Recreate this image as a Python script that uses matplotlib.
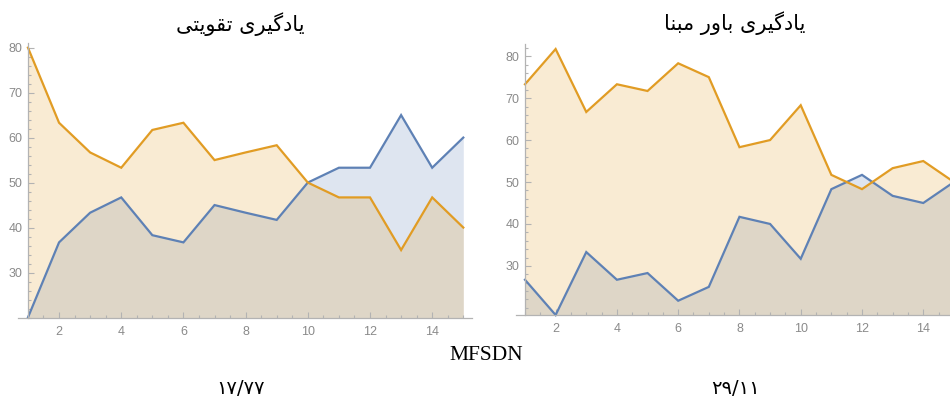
import matplotlib
matplotlib.use('Agg')
import matplotlib.pyplot as plt
from matplotlib.ticker import FixedLocator, MultipleLocator

# ---------------- data ----------------
x = list(range(1, 16))
rl_blue = [20, 36.7, 43.3, 46.7, 38.3, 36.7, 45, 43.3, 41.7, 50, 53.3, 53.3, 65, 53.3, 60]
rl_orange = [80, 63.3, 56.7, 53.3, 61.7, 63.3, 55, 56.7, 58.3, 50, 46.7, 46.7, 35, 46.7, 40]
bb_blue = [26.7, 18.3, 33.3, 26.7, 28.3, 21.7, 25, 41.7, 40, 31.7, 48.3, 51.7, 46.7, 45, 50]
bb_orange = [73.3, 81.7, 66.7, 73.3, 71.7, 78.3, 75, 58.3, 60, 68.3, 51.7, 48.3, 53.3, 55, 50]

title_left = 'یادگیری تقویتی'
title_right = 'یادگیری باور مبنا'
xlabel = 'MFSDN'
score_left = '۱۷/۷۷'
score_right = '۲۹/۱۱'

x_ticks = [2, 4, 6, 8, 10, 12, 14]
y_ticks = [30, 40, 50, 60, 70, 80]

BLUE = '#5E81B5'
ORANGE = '#E19C24'
AXCOL = '#b3b3b3'
LABCOL = '#8a8a8a'

# ---------------- simple Arabic/Persian shaping ----------------
FORMS = {
    'ا': ('\uFE8D', '\uFE8E', None, None),
    'ب': ('\uFE8F', '\uFE90', '\uFE91', '\uFE92'),
    'ت': ('\uFE95', '\uFE96', '\uFE97', '\uFE98'),
    'د': ('\uFEA9', '\uFEAA', None, None),
    'ر': ('\uFEAD', '\uFEAE', None, None),
    'ق': ('\uFED5', '\uFED6', '\uFED7', '\uFED8'),
    'م': ('\uFEE1', '\uFEE2', '\uFEE3', '\uFEE4'),
    'ن': ('\uFEE5', '\uFEE6', '\uFEE7', '\uFEE8'),
    'و': ('\uFEED', '\uFEEE', None, None),
    'گ': ('\uFB92', '\uFB93', '\uFB94', '\uFB95'),
    'ی': ('\uFBFC', '\uFBFD', '\uFBFE', '\uFBFF'),
}


def shape(s):
    out = []
    n = len(s)
    for i, c in enumerate(s):
        if c not in FORMS:
            out.append(c)
            continue
        f = FORMS[c]
        prev = s[i - 1] if i > 0 else None
        nxt = s[i + 1] if i < n - 1 else None
        jp = prev in FORMS and FORMS[prev][2] is not None
        jn = nxt in FORMS and f[2] is not None
        if jp and jn:
            g = f[3]
        elif jp:
            g = f[1]
        elif jn:
            g = f[2]
        else:
            g = f[0]
        out.append(g)
    return ''.join(reversed(out))


fig = plt.figure(figsize=(9.5, 4.03), dpi=100)


def panel(rect, blue, orange, xlim, ytop):
    base = min(min(blue), min(orange))
    ax = fig.add_axes(rect)
    ax.fill_between(x, base, blue, color=BLUE, alpha=0.2, lw=0)
    ax.fill_between(x, base, orange, color=ORANGE, alpha=0.2, lw=0)
    ax.plot(x, blue, color=BLUE, lw=1.6, solid_joinstyle='miter', clip_on=False)
    ax.plot(x, orange, color=ORANGE, lw=1.6, solid_joinstyle='miter', clip_on=False)
    ax.set_xlim(*xlim)
    ax.set_ylim(base, ytop)
    for s in ['top', 'right']:
        ax.spines[s].set_visible(False)
    ax.spines['left'].set_position(('data', 1))
    ax.spines['bottom'].set_position(('data', base))
    for s in ['left', 'bottom']:
        ax.spines[s].set_color(AXCOL)
        ax.spines[s].set_linewidth(0.9)
    ax.xaxis.set_major_locator(FixedLocator(x_ticks))
    ax.yaxis.set_major_locator(FixedLocator(y_ticks))
    ax.xaxis.set_minor_locator(MultipleLocator(0.5))
    ax.yaxis.set_minor_locator(MultipleLocator(2))
    ax.tick_params(which='both', direction='in', color=AXCOL, labelcolor=LABCOL,
                   labelsize=9, width=0.8)
    ax.tick_params(which='major', length=4)
    ax.tick_params(which='minor', length=2)
    ax.tick_params(axis='x', which='major', pad=6)
    ax.tick_params(axis='y', which='major', pad=3.8)
    for lab in ax.get_xticklabels() + ax.get_yticklabels():
        lab.set_fontfamily('Liberation Sans')
    ax.patch.set_alpha(0)
    return ax


panel([18 / 950, (403 - 317.5) / 403, 454 / 950, 274.8 / 403],
      rl_blue, rl_orange, (0.68, 15.28), 81.1)
panel([516.1 / 950, (403 - 315) / 403, 446.4 / 950, 271 / 403],
      bb_blue, bb_orange, (0.71, 15.28), 82.9)

fig.text(240 / 950, 1 - 24 / 403, shape(title_left), ha='center', va='center',
         fontsize=15, family=['DejaVu Sans'])
fig.text(735 / 950, 1 - 23 / 403, shape(title_right), ha='center', va='center',
         fontsize=15, family=['DejaVu Sans'])
fig.text(486 / 950, 1 - 355 / 403, xlabel, ha='center', va='center',
         fontsize=15.5, family=['Liberation Serif'])
fig.text(241 / 950, 1 - 389 / 403, score_left, ha='center', va='center',
         fontsize=14, family=['DejaVu Sans'])
fig.text(735 / 950, 1 - 389 / 403, score_right, ha='center', va='center',
         fontsize=14, family=['DejaVu Sans'])

fig.savefig('out.png', dpi=100)
